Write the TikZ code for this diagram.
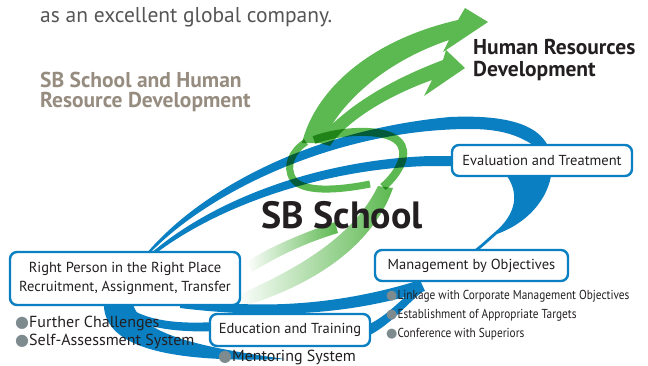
\documentclass[tikz,border=0pt]{standalone}
\usepackage{fontspec}
\setmainfont{PT Sans}
\newfontfamily\dotfont{DejaVu Sans}
\usetikzlibrary{positioning}

\definecolor{sbblue}{HTML}{0A7FC2}
\definecolor{sbgreen}{HTML}{5CB850}
\definecolor{sbtan}{HTML}{968C80}
\definecolor{sbgrey}{HTML}{555555}
\definecolor{sbdot}{HTML}{7D8B8F}
\definecolor{sbtext}{HTML}{231F20}

\newcommand\bul{{\dotfont\color{sbdot}●}}

\tikzset{
  band/.style={fill=sbblue},
  leaf/.style={fill=sbgreen},
  coil/.style={draw=sbgreen, line width=8pt},
  fade/.style={left color=white, right color=sbgreen},
  tag/.style={draw=sbblue, line width=2.4pt, fill=white, rounded corners=7pt,
    inner sep=0pt, text=sbtext, font=\fontsize{14.5}{19}\selectfont, align=center},
  item/.style={anchor=base west, inner sep=0pt, text=sbtext, font=\fontsize{16}{19}\selectfont},
  subitem/.style={anchor=base west, inner sep=0pt, text=sbtext, font=\fontsize{13}{16}\selectfont},
  head/.style={anchor=base west, inner sep=0pt, font=\fontsize{21.5}{25}\selectfont\bfseries},
}

\begin{document}
\begin{tikzpicture}[x=1pt, y=-1pt, line join=round]
\useasboundingbox (0,0) rectangle (648,365);

% blue swirl
% outer arc, round the right side and down to the MBO box
\fill[band] (146,254) .. controls (200,190) and (310,130) .. (450,117)
  .. controls (520,114) and (552,130) .. (552,165)
  .. controls (552,195) and (530,222) .. (497,234)
  .. controls (490,240) and (484,246) .. (476,252) -- (474,250)
  .. controls (482,244) and (488,238) .. (495,232)
  .. controls (515,215) and (520,195) .. (507,176)
  -- (533,145) .. controls (515,133) and (495,129) .. (470,129)
  .. controls (340,129) and (210,190) .. (149,254) -- cycle;
% inner arc, into the evaluation box
\fill[band] (150,254) .. controls (215,198) and (320,160) .. (430,156) -- (470,156)
  -- (470,166) -- (430,166) .. controls (330,168) and (222,203) .. (155,254) -- cycle;
% loop under the placement box
\fill[band] (104,300) .. controls (100,348) and (170,363) .. (285,359)
  .. controls (190,346) and (137,332) .. (132,300) -- cycle;
\fill[band] (120,300) .. controls (140,322) and (180,324) .. (215,322) -- (215,331)
  .. controls (175,333) and (130,327) .. (112,305) -- cycle;
% from placement over training to MBO
\fill[band] (180,298) .. controls (270,312) and (350,302) .. (420,280) -- (425,291)
  .. controls (350,315) and (270,319) .. (180,308) -- cycle;
\fill[band] (365,326) .. controls (385,318) and (398,302) .. (418,286) -- (422,292)
  .. controls (405,306) and (390,325) .. (368,336) -- cycle;

% green ribbons
\begin{scope}[blend mode=multiply]
  \shade[fade] (246,262) .. controls (270,247) and (300,234) .. (335,222) -- (338,233)
    .. controls (305,243) and (278,256) .. (252,272) -- cycle;
  \shade[fade] (236,296) .. controls (290,272) and (352,240) .. (378,186) -- (393,188)
    .. controls (372,248) and (310,286) .. (244,306) -- cycle;
  % coil
  \draw[coil] (383,187) .. controls (400,172) and (410,152) .. (398,141)
    .. controls (385,128) and (340,130) .. (314,140);
  \draw[coil, line width=7pt] (370,184) .. controls (335,191) and (302,192) .. (293,179)
    .. controls (285,166) and (292,151) .. (306,142);
  % two arrows
  \fill[leaf] (302,143) .. controls (315,90) and (370,40) .. (458,20) -- (465,8) -- (488,22)
      -- (443,52) -- (449,40) .. controls (390,60) and (342,98) .. (322,143) -- cycle
    (316,142) .. controls (345,105) and (395,78) .. (443,60) -- (446,50) -- (465,68)
      -- (424,96) -- (432,80) .. controls (390,95) and (347,120) .. (330,146) -- cycle;
\end{scope}

% titles
\node[anchor=base west, inner sep=0pt, text=sbgrey, font=\fontsize{21.5}{25}\selectfont]
  (motto) at (40,22) {as an excellent global company.};
\node[head, text=sbtan] (side1) at (40,87) {SB School and Human};
\node[head, text=sbtan] (side2) at (40,107) {Resource Development};
\node[head, text=sbtext] (hrd1) at (473,54) {Human Resources};
\node[head, text=sbtext] (hrd2) at (473,76) {Development};
\node[anchor=base west, inner sep=0pt, text=sbtext, font=\fontsize{38}{40}\selectfont\bfseries]
  (school) at (261,228) {SB School};

% boxes
\node[tag, minimum width=180pt, minimum height=31pt] (eval) at (542,160.5) {Evaluation and Treatment};
\node[tag, minimum width=193pt, minimum height=31pt] (mbo) at (471.5,265.5) {Management by Objectives};
\node[tag, minimum width=230pt, minimum height=53pt] (place) at (125,278.5)
  {Right Person in the Right Place\\Recruitment, Assignment, Transfer};
\node[tag, minimum width=160pt, minimum height=32pt] (train) at (290,330) {Education and Training};

% bullet lists
\node[item] (b1) at (15,327) {\bul Further Challenges};
\node[item] (b2) at (15,345) {\bul Self-Assessment System};
\node[item] (b3) at (218,361) {\bul Mentoring System};
\node[subitem] (m1) at (386,299) {\bul\scalebox{0.87}[1]{Linkage with Corporate Management Objectives}};
\node[subitem] (m2) at (386,318) {\bul\scalebox{0.87}[1]{Establishment of Appropriate Targets}};
\node[subitem] (m3) at (386,337) {\bul\scalebox{0.87}[1]{Conference with Superiors}};
\end{tikzpicture}
\end{document}
